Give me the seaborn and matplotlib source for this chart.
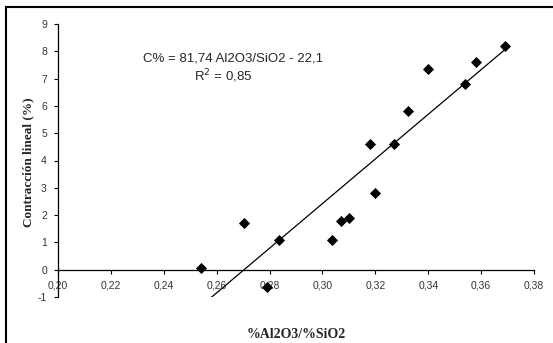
import numpy as np
import pandas as pd
import matplotlib
matplotlib.use('Agg')
import matplotlib.pyplot as plt
import seaborn as sns
from matplotlib.patches import Rectangle

# datos
ratio = [0.254, 0.2705, 0.279, 0.2835, 0.3035, 0.307, 0.310, 0.320,
         0.318, 0.327, 0.3325, 0.340, 0.354, 0.358, 0.369]
contraccion = [0.05, 1.7, -0.65, 1.1, 1.1, 1.8, 1.9, 2.8,
               4.6, 4.6, 5.8, 7.35, 6.8, 7.6, 8.2]
pendiente = 81.74
intercepto = -22.1
x_ticks = [0.20, 0.22, 0.24, 0.26, 0.28, 0.30, 0.32, 0.34, 0.36, 0.38]
y_ticks = list(range(-1, 10))

df = pd.DataFrame({'ratio': ratio, 'contraccion': contraccion})
x_line = np.array([min(ratio), max(ratio)])
df_line = pd.DataFrame({'x': x_line, 'y': pendiente * x_line + intercepto})

sns.set_style('white')
plt.rcParams['font.family'] = ['Liberation Sans', 'DejaVu Sans']

fig = plt.figure(figsize=(5.53, 3.43), dpi=100)
ax = fig.add_axes([58 / 553, 1 - 297 / 343, 476 / 553, 273 / 343])

sns.lineplot(data=df_line, x='x', y='y', color='black', linewidth=0.9, ax=ax)
sns.scatterplot(data=df, x='ratio', y='contraccion', marker='D', s=32,
                color='black', edgecolor='black', linewidth=0, ax=ax, zorder=3)

ax.set_xlim(0.20, 0.38)
ax.set_ylim(-1, 9)
ax.set_xticks(x_ticks)
ax.set_xticklabels([f'{v:.2f}'.replace('.', ',') for v in x_ticks])
ax.set_yticks(y_ticks)
ax.set_yticklabels([str(v) for v in y_ticks])

for s in ['top', 'right']:
    ax.spines[s].set_visible(False)
ax.spines['bottom'].set_position(('data', 0))
for s in ['left', 'bottom']:
    ax.spines[s].set_color('black')
    ax.spines[s].set_linewidth(0.9)
ax.tick_params(axis='both', which='both', direction='out', length=3, width=0.8,
               colors='black', labelsize=7.5, labelcolor='#333333')
ax.tick_params(axis='x', bottom=True, pad=5)
ax.tick_params(axis='y', left=True, pad=5)

ax.set_xlabel('')
ax.set_ylabel('')
fig.text(296 / 553, 1 - 334 / 343, '%Al2O3/%SiO2', ha='center', va='center',
         fontsize=10, fontweight='bold', family=['Liberation Serif'])
fig.text(28 / 553, 1 - 162 / 343, 'Contracción lineal (%)', ha='center', va='center',
         rotation=90, fontsize=9.5, fontweight='bold', family=['Liberation Serif'])

ax.text(0.2662, 7.73, 'C% = 81,74 Al2O3/SiO2 - 22,1', ha='center', va='center', fontsize=9.5)
ax.text(0.2624, 7.09, 'R$^2$ = 0,85', ha='center', va='center', fontsize=9.5)

fig.add_artist(Rectangle((6 / 553, -0.1), 1.2, 1.1 - 7 / 343,
                         transform=fig.transFigure, fill=False,
                         edgecolor='black', linewidth=1.5))

fig.savefig('out.png', dpi=100)
